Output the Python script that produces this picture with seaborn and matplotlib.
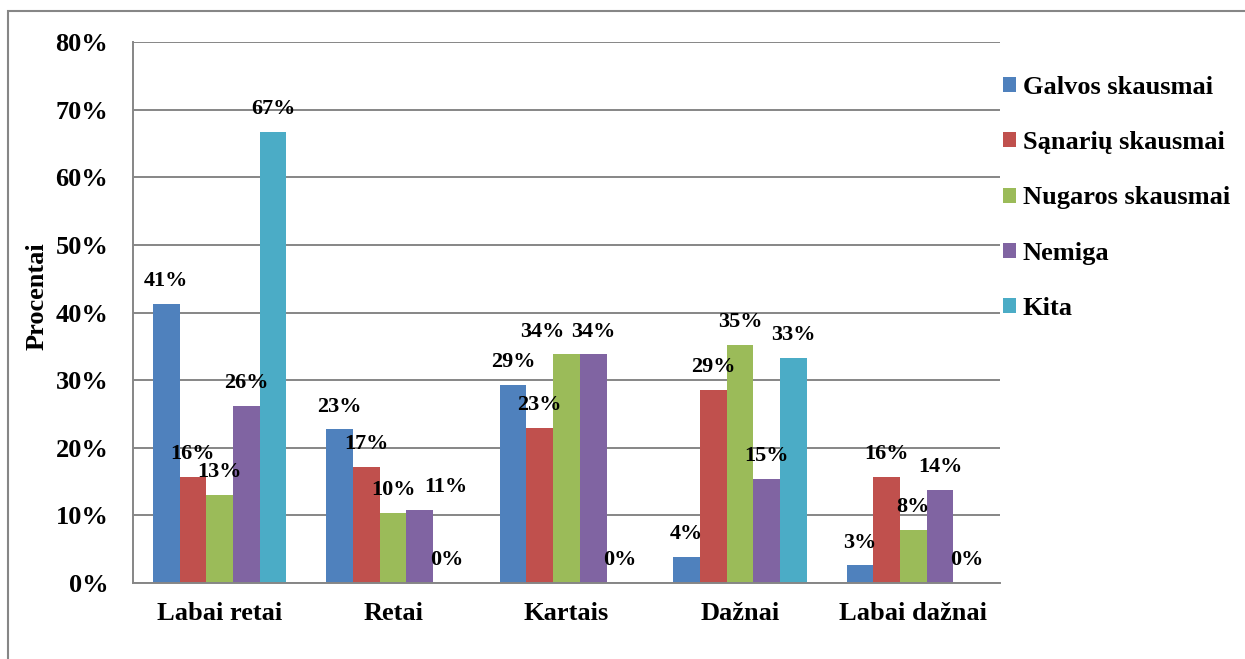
import pandas as pd
import numpy as np
import matplotlib.pyplot as plt
import seaborn as sns
from matplotlib.patches import Rectangle
from matplotlib.ticker import PercentFormatter, FixedLocator

# categories and series
daznis = ['Labai retai', 'Retai', 'Kartais', 'Dažnai', 'Labai dažnai']
simptomai = ['Galvos skausmai', 'Sąnarių skausmai', 'Nugaros skausmai', 'Nemiga', 'Kita']

galvos = [0.413, 0.227, 0.293, 0.039, 0.026]
sanariu = [0.157, 0.171, 0.229, 0.286, 0.157]
nugaros = [0.130, 0.103, 0.338, 0.352, 0.078]
nemiga = [0.262, 0.108, 0.338, 0.154, 0.138]
kita = [0.667, 0.0, 0.0, 0.333, 0.0]

spalvos = ['#4F81BD', '#C0504D', '#9BBB59', '#8064A2', '#4BACC6']

df = pd.DataFrame({
    'daznis': daznis * 5,
    'simptomas': np.repeat(simptomai, 5),
    'proc': galvos + sanariu + nugaros + nemiga + kita,
})

sns.set_style('white')
plt.rcParams['font.family'] = ['Liberation Serif', 'DejaVu Serif']
plt.rcParams['font.weight'] = 'bold'
plt.rcParams['text.color'] = 'black'
plt.rcParams['axes.labelcolor'] = 'black'
plt.rcParams['xtick.color'] = 'black'
plt.rcParams['ytick.color'] = 'black'

grey = '#868686'

fig = plt.figure(figsize=(12.45, 6.59), dpi=100)
ax = fig.add_axes([133 / 1245, 1 - 583 / 659, 867 / 1245, 541 / 659])

sns.barplot(data=df, x='daznis', y='proc', hue='simptomas', order=daznis,
            hue_order=simptomai, palette=spalvos, width=0.77, saturation=1,
            linewidth=0, ax=ax)

# value labels above every bar; a few were nudged sideways in the original
# (series index, category index) -> shift in points
nudge = {(3, 1): 19, (2, 2): -17.5}
for si, cont in enumerate(ax.containers):
    for ci, bar in enumerate(cont):
        h = bar.get_height()
        ax.annotate(f'{h * 100:.0f}%', (bar.get_x() + bar.get_width() / 2, h),
                    xytext=(nudge.get((si, ci), 0), 16.5),
                    textcoords='offset points', ha='center', va='center',
                    fontsize=16, fontweight='bold', color='black')

ax.set_ylim(0, 0.8)
ax.set_xlim(-0.5, 4.5)
ax.set_yticks(np.arange(0, 0.81, 0.1))
ax.yaxis.set_major_formatter(PercentFormatter(1.0, decimals=0))
ax.grid(axis='y', color=grey, linewidth=1.4)
ax.set_axisbelow(True)

for s in ['top', 'right']:
    ax.spines[s].set_visible(False)
for s in ['left', 'bottom']:
    ax.spines[s].set_color(grey)
    ax.spines[s].set_linewidth(1.4)

ax.tick_params(axis='y', direction='out', length=5.8, width=1.4, color=grey,
               pad=12, labelsize=19, labelcolor='black')
ax.tick_params(axis='x', which='major', length=0, pad=14, labelsize=19,
               labelcolor='black')
ax.xaxis.set_minor_locator(FixedLocator(np.arange(-0.5, 5, 1)))
ax.tick_params(axis='x', which='minor', direction='out', length=5.8, width=1.4,
               color=grey)
for lab in ax.get_xticklabels() + ax.get_yticklabels():
    lab.set_fontweight('bold')

ax.set_xlabel('')
ax.set_ylabel('Procentai', fontsize=19, fontweight='bold', color='black')
ax.yaxis.set_label_coords(-0.097, 0.53)

handles, labels = ax.get_legend_handles_labels()
ax.legend(handles, labels, loc='upper left',
          bbox_to_anchor=(1003 / 1245, 1 - 76 / 659),
          bbox_transform=fig.transFigure, frameon=False,
          prop={'weight': 'bold', 'size': 19}, handlelength=0.5,
          handleheight=0.5, handletextpad=0.25, labelspacing=1.22,
          borderpad=0, borderaxespad=0, labelcolor='black')

# outer chart border (only top and left show in the picture)
fig.patches.append(Rectangle((7.5 / 1245, -0.1), 1.2, 1.1 - 11 / 659,
                             transform=fig.transFigure, fill=False,
                             edgecolor=grey, linewidth=1.5))

fig.savefig('out.png', dpi=100)
